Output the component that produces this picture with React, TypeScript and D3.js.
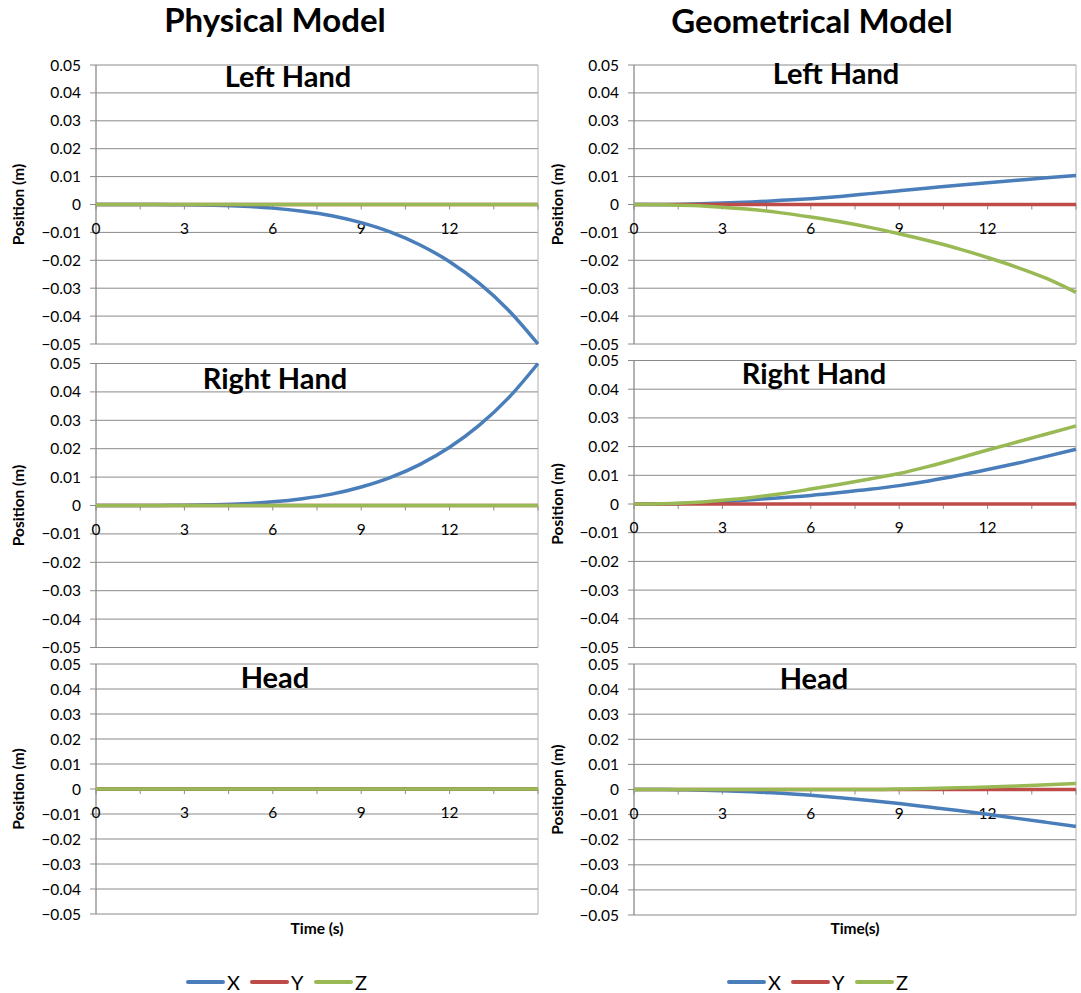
import React from 'react';
import * as d3 from 'd3';

// ---------- data ----------
const timeS = [0, 1, 2, 3, 4, 5, 6, 7, 8, 9, 10, 11, 12, 13, 14, 15];
const xTickLabels = [0, 3, 6, 9, 12];
const xMinorTicks = [0, 1.5, 3, 4.5, 6, 7.5, 9, 10.5, 12, 13.5, 15];
const yTickValues = [0.05, 0.04, 0.03, 0.02, 0.01, 0, -0.01, -0.02, -0.03, -0.04, -0.05];
const seriesNames = ['X', 'Y', 'Z'];
const seriesColors = ['#4a7ebb', '#be4b48', '#98b954'];
const columnTitles = ['Physical Model', 'Geometrical Model'];
const panelTitles = ['Left Hand', 'Right Hand', 'Head'];
const yAxisTitlesPhysical = ['Position (m)', 'Position (m)', 'Position (m)'];
const yAxisTitlesGeometrical = ['Position (m)', 'Position (m)', 'Positiopn (m)'];
const xAxisTitles = ['Time (s)', 'Time(s)'];

const zeroSeries = [0, 0, 0, 0, 0, 0, 0, 0, 0, 0, 0, 0, 0, 0, 0, 0];

// Physical model
const physLeftX = [0, 0, -0.00002, -0.00008, -0.00025, -0.0006, -0.0013, -0.0024, -0.004, -0.0065, -0.0099, -0.0145, -0.0205, -0.0282, -0.0379, -0.05];
const physRightX = [0, 0, 0.00002, 0.00008, 0.00025, 0.0006, 0.0013, 0.0024, 0.004, 0.0065, 0.0099, 0.0145, 0.0205, 0.0282, 0.0379, 0.05];

// Geometrical model
const geoLeftX = [0, 0.00003, 0.0002, 0.0005, 0.0009, 0.0015, 0.0021, 0.0029, 0.0039, 0.0049, 0.0059, 0.0069, 0.0078, 0.0087, 0.0096, 0.0104];
const geoLeftZ = [0, -0.0001, -0.0004, -0.001, -0.0018, -0.003, -0.0045, -0.0062, -0.0082, -0.0105, -0.013, -0.0158, -0.019, -0.0225, -0.0265, -0.0315];
const geoRightX = [0, 0, 0.0003, 0.0008, 0.0015, 0.0022, 0.003, 0.004, 0.0051, 0.0064, 0.008, 0.0099, 0.012, 0.0142, 0.0166, 0.0191];
const geoRightZ = [0, 0.0001, 0.0005, 0.0013, 0.0023, 0.0036, 0.0052, 0.0069, 0.0087, 0.0106, 0.0131, 0.0159, 0.0188, 0.0216, 0.0244, 0.0272];
const geoHeadX = [0, 0, -0.0002, -0.0005, -0.0009, -0.0015, -0.0023, -0.0033, -0.0044, -0.0056, -0.007, -0.0084, -0.0099, -0.0115, -0.0131, -0.0147];
const geoHeadZ = [0, 0, 0, 0, 0, 0, 0, 0, 0, 0.0002, 0.0004, 0.0007, 0.001, 0.0014, 0.0019, 0.0024];

const physicalPanels = [
  [physLeftX, zeroSeries, zeroSeries],
  [physRightX, zeroSeries, zeroSeries],
  [zeroSeries, zeroSeries, zeroSeries],
];
const geometricalPanels = [
  [geoLeftX, zeroSeries, geoLeftZ],
  [geoRightX, zeroSeries, geoRightZ],
  [geoHeadX, zeroSeries, geoHeadZ],
];

// ---------- layout ----------
const FONT = 'Lato, "Open Sans", sans-serif';
const GRID = '#8a8a8a';

const columns = [
  {
    x0: 96, x1: 538, titleX: 275, titleY: 32, yTitleX: 19,
    rows: [[65, 344], [363.5, 647.5], [664, 914]],
    panelTitlePos: [[288, 87], [275, 389], [275, 688]],
    legendX: 187,
    panels: physicalPanels, yTitles: yAxisTitlesPhysical,
  },
  {
    x0: 634, x1: 1076, titleX: 812, titleY: 33, yTitleX: 558,
    rows: [[65, 344], [360.5, 647.5], [664, 915]],
    panelTitlePos: [[836, 84], [814, 384], [814, 689]],
    legendX: 728,
    panels: geometricalPanels, yTitles: yAxisTitlesGeometrical,
  },
];

function Panel({ x0, x1, top, bottom, data, title, titlePos, yTitle, yTitleX }) {
  const xs = d3.scaleLinear().domain([0, 15]).range([x0, x1]);
  const ys = d3.scaleLinear().domain([-0.05, 0.05]).range([bottom, top]);
  const y0 = ys(0);
  const line = d3
    .line<number>()
    .x((_, i) => xs(timeS[i]))
    .y((d) => ys(d))
    .curve(d3.curveMonotoneX);
  return (
    <g>
      {yTickValues.map((v) => (
        <g key={v}>
          <line x1={x0 - 6} x2={x1} y1={ys(v)} y2={ys(v)} stroke={GRID} strokeWidth={1} />
          <text
            x={x0 - 15}
            y={ys(v)}
            dy="0.36em"
            textAnchor="end"
            fontFamily={FONT}
            fontSize={15.5}
            fill="#000"
          >
            {v === 0 ? '0' : d3.format('.2f')(v)}
          </text>
        </g>
      ))}
      <line x1={x0} x2={x0} y1={top} y2={bottom} stroke={GRID} strokeWidth={1.3} />
      <line x1={x1} x2={x1} y1={top} y2={bottom} stroke="#b0b0b0" strokeWidth={1} />
      {xMinorTicks.map((t) => (
        <line key={t} x1={xs(t)} x2={xs(t)} y1={y0} y2={y0 + 5} stroke={GRID} strokeWidth={1} />
      ))}
      {xTickLabels.map((t) => (
        <text
          key={t}
          x={xs(t)}
          y={y0 + 29}
          textAnchor="middle"
          fontFamily={FONT}
          fontSize={15.5}
          fill="#000"
        >
          {t}
        </text>
      ))}
      {data.map((s, i) => (
        <path
          key={i}
          d={line(s) || ''}
          fill="none"
          stroke={seriesColors[i]}
          strokeWidth={3.5}
          strokeLinejoin="round"
        />
      ))}
      <text
        x={titlePos[0]}
        y={titlePos[1]}
        textAnchor="middle"
        fontFamily={FONT}
        fontWeight="bold"
        fontSize={29}
        fill="#000"
      >
        {title}
      </text>
      <text
        transform={`translate(${yTitleX},${(top + bottom) / 2}) rotate(-90)`}
        textAnchor="middle"
        dy="0.35em"
        fontFamily={FONT}
        fontWeight="bold"
        fontSize={15.5}
        fill="#000"
      >
        {yTitle}
      </text>
    </g>
  );
}

export default function App() {
  return (
    <svg
      width={1081}
      height={993}
      style={{ position: 'absolute', left: 0, top: 0, display: 'block', background: '#fff' }}
    >
      <rect x={0} y={0} width={1081} height={993} fill="#fff" />
      {columns.map((col, ci) => (
        <g key={ci}>
          <text
            x={col.titleX}
            y={col.titleY}
            textAnchor="middle"
            fontFamily={FONT}
            fontWeight="bold"
            fontSize={33}
            fill="#000"
          >
            {columnTitles[ci]}
          </text>
          {col.rows.map((r, ri) => (
            <Panel
              key={ri}
              x0={col.x0}
              x1={col.x1}
              top={r[0]}
              bottom={r[1]}
              data={col.panels[ri]}
              title={panelTitles[ri]}
              titlePos={col.panelTitlePos[ri]}
              yTitle={col.yTitles[ri]}
              yTitleX={col.yTitleX}
            />
          ))}
          <text
            x={(col.x0 + col.x1) / 2}
            y={934}
            textAnchor="middle"
            fontFamily={FONT}
            fontWeight="bold"
            fontSize={15.5}
            fill="#000"
          >
            {xAxisTitles[ci]}
          </text>
          {seriesNames.map((n, si) => {
            const lx = col.legendX + si * 64;
            return (
              <g key={n}>
                <line
                  x1={lx + 1}
                  x2={lx + 36}
                  y1={982}
                  y2={982}
                  stroke={seriesColors[si]}
                  strokeWidth={4}
                  strokeLinecap="round"
                />
                <text x={lx + 40} y={990} fontFamily={FONT} fontSize={20} fill="#000">
                  {n}
                </text>
              </g>
            );
          })}
        </g>
      ))}
    </svg>
  );
}
